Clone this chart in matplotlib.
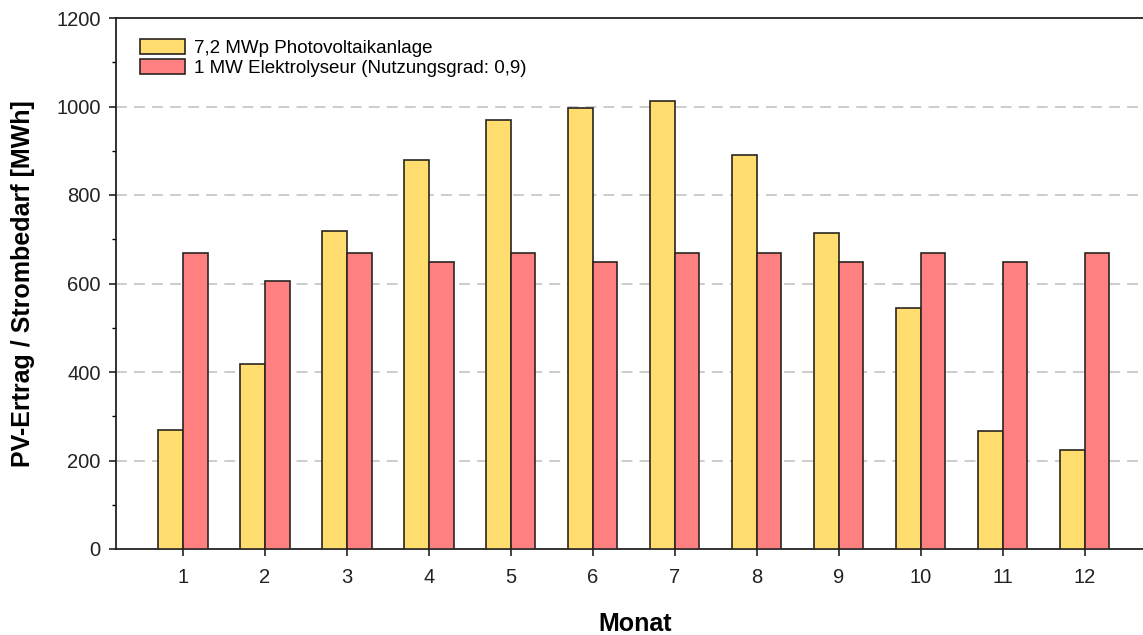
import matplotlib
matplotlib.use("Agg")
import matplotlib.pyplot as plt
import numpy as np
from matplotlib.ticker import MultipleLocator

months = list(range(1, 13))
month_labels = [str(m) for m in months]
pv = [269, 418, 719, 879, 970, 997, 1012, 890, 714, 545, 267, 224]
demand = [670, 605, 670, 648, 670, 648, 670, 670, 648, 670, 648, 670]
pv_label = "7,2 MWp Photovoltaikanlage"
dem_label = "1 MW Elektrolyseur (Nutzungsgrad: 0,9)"

plt.rcParams['font.family'] = ['Liberation Sans', 'DejaVu Sans']

fig = plt.figure(figsize=(11.43, 6.35), dpi=100)
ax = fig.add_axes([116/1143, 1-549/635, 1-116/1143 + 0.01, (549-18)/635])

x = np.array(months)
w = 0.3
ax.bar(x - w/2, pv, w, color='#FFDD6E', edgecolor='#2a2520', linewidth=1.2, label=pv_label, zorder=3)
ax.bar(x + w/2, demand, w, color='#FF8080', edgecolor='#2a2520', linewidth=1.2, label=dem_label, zorder=3)

ax.set_xlim(0.183, 12.85)
ax.set_ylim(0, 1200)
ax.set_xticks(x)
ax.set_xticklabels(month_labels)
ax.yaxis.set_major_locator(MultipleLocator(200))
ax.yaxis.set_minor_locator(MultipleLocator(100))
ax.tick_params(axis='both', which='major', direction='out', length=5, width=1.2, labelsize=14.5, colors='#222222')
ax.tick_params(axis='y', which='minor', direction='out', length=3, width=1.0)
ax.tick_params(axis='x', pad=9)
ax.tick_params(axis='y', pad=6)
for yv in [200, 400, 600, 800, 1000]:
    ax.axhline(yv, color='#c8c8c8', linestyle=(0, (6, 4)), linewidth=1.3, zorder=1)
ax.spines['right'].set_visible(False)
for s in ['left', 'bottom', 'top']:
    ax.spines[s].set_linewidth(1.3)
    ax.spines[s].set_color('#222222')

ax.set_xlabel('Monat', fontsize=18, fontweight='bold', labelpad=18)
ax.set_ylabel('PV-Ertrag / Strombedarf [MWh]', fontsize=18, fontweight='bold', labelpad=15)

leg = ax.legend(loc='upper left', bbox_to_anchor=(0.01, 0.985), frameon=False, fontsize=13.5,
                handlelength=2.4, handleheight=0.85, labelspacing=0.12, handletextpad=0.5, borderaxespad=0.3)

fig.savefig('out.png', dpi=100)
